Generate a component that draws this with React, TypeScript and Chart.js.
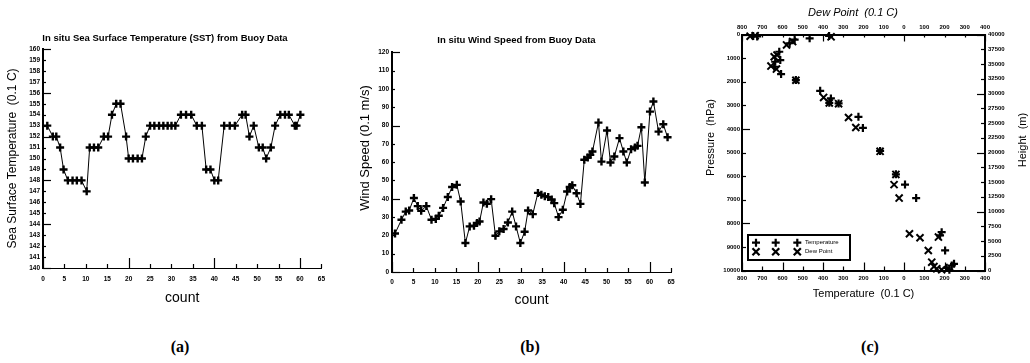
import React, { useEffect, useRef } from 'react';
import { Chart, registerables } from 'chart.js';

Chart.register(...registerables);

const SANS = '"Liberation Sans", Arial, sans-serif';
const SERIF = '"Liberation Serif", "Times New Roman", serif';

// ---------- Panel (a): in situ SST (0.1 C) vs count ----------
const sstCount = [1.0, 2.3, 3.1, 4.0, 4.8, 5.8, 6.9, 7.9, 9.0, 10.2, 10.9, 11.9, 12.9, 14.2, 15.2, 16.1, 17.1, 18.1, 19.4, 20.0,
  21.0, 22.1, 23.1, 24.0, 25.0, 26.0, 27.1, 28.1, 29.1, 30.0, 30.9, 32.2, 33.4, 34.6, 35.9, 37.1, 38.1, 39.1, 40.0, 40.9,
  42.3, 43.6, 44.8, 46.5, 47.3, 48.2, 49.2, 50.4, 51.3, 52.1, 53.2, 54.2, 55.4, 56.5, 57.4, 58.8, 59.2, 60.1];
const sstValue = [153, 152, 152, 151, 149, 148, 148, 148, 148, 147, 151, 151, 151, 152, 152, 154, 155, 155, 152, 150,
  150, 150, 150, 152, 153, 153, 153, 153, 153, 153, 153, 154, 154, 154, 153, 153, 149, 149, 148, 148,
  153, 153, 153, 154, 154, 152, 153, 151, 151, 150, 151, 153, 154, 154, 154, 153, 153, 154];

// ---------- Panel (b): in situ wind speed (0.1 m/s) vs count ----------
const windCount = [0.7, 2.2, 3.2, 4.0, 5.1, 6.0, 6.8, 8.0, 9.2, 10.2, 10.9, 11.9, 13.0, 14.0, 15.1, 16.0, 17.1, 18.1, 19.1, 19.8,
  20.4, 21.3, 22.1, 23.1, 24.1, 25.0, 26.0, 27.0, 28.0, 28.9, 29.9, 30.9, 31.7, 32.8, 34.0, 34.8, 35.6, 36.4, 37.2, 37.8,
  38.8, 39.8, 40.8, 41.4, 42.0, 43.0, 43.9, 44.8, 45.6, 46.2, 46.7, 48.1, 48.8, 50.1, 50.9, 51.8, 53.0, 53.9, 54.7, 55.7,
  56.6, 57.2, 58.1, 58.9, 60.1, 60.9, 62.1, 63.2, 64.2];
const windValue = [21, 28.5, 33, 33.6, 40.4, 36, 33.4, 36, 28.5, 29, 30.7, 35, 41, 46.4, 47.6, 38.5, 15.8, 24.9, 25.3, 26.7,
  27.6, 38, 37.3, 39.8, 19.8, 22.2, 23.5, 27, 33, 24.9, 15.8, 22, 33.6, 31.6, 43.2, 42.2, 41.4, 40.9, 39.6, 37.6,
  30, 34, 44, 46.4, 47.4, 43, 37.2, 61.3, 62.5, 64, 65.8, 81.6, 60.3, 77.3, 59.8, 63.1, 73.1, 65.8, 59.8, 67.1,
  68, 68.9, 79.1, 48.9, 87.6, 93.1, 76.7, 80.7, 73.6];

// ---------- Panel (c): sounding, temperature / dew point (0.1 C) vs pressure ----------
const tempValue = [-745, -725, -370, -466, -540, -565, -616, -611, -636, -640, -607, -534, -414, -361, -369, -323, -225, -203,
  -118, -40, 5, 60, 186, 178, 203, 247, 236, 211, 224];
const tempPressure = [60, 80, 60, 163, 220, 370, 730, 1083, 1155, 1367, 1677, 1932, 2386, 2710, 2896, 2922, 3490, 3958,
  4934, 5924, 6361, 6930, 8374, 8514, 9151, 9716, 9788, 9885, 9970];
const dewValue = [-760, -735, -360, -550, -580, -627, -641, -657, -630, -534, -397, -369, -323, -274, -238, -118, -40, -49,
  -24, 27, 170, 79, 120, 137, 148, 162, 186];
const dewPressure = [70, 50, 100, 300, 440, 870, 942, 1338, 1465, 1940, 2667, 2900, 2930, 3516, 3941, 4950, 5930, 6361,
  6930, 8443, 8585, 8613, 9151, 9648, 9830, 9928, 9970];

const panelLabels = ['(a)', '(b)', '(c)'];

// ---------- helpers ----------
type Side = 'left' | 'right' | 'top' | 'bottom';
interface TickSpec { id: string; side: Side; minor: number; major: number; every: number; width?: number; }

function tickPlugin(specs: TickSpec[]) {
  return {
    id: 'inwardTicks',
    afterDatasetsDraw(chart: any) {
      const { ctx, chartArea: a } = chart;
      ctx.save();
      ctx.strokeStyle = '#000';
      for (const s of specs) {
        const scale = chart.scales[s.id];
        if (!scale) continue;
        ctx.lineWidth = s.width ?? 1.2;
        for (const t of scale.ticks) {
          const r = t.value / s.every;
          const len = Math.abs(r - Math.round(r)) < 1e-6 ? s.major : s.minor;
          const p = Math.round(scale.getPixelForValue(t.value)) + 0.5;
          ctx.beginPath();
          if (s.side === 'left') { ctx.moveTo(a.left, p); ctx.lineTo(a.left + len, p); }
          else if (s.side === 'right') { ctx.moveTo(a.right, p); ctx.lineTo(a.right - len, p); }
          else if (s.side === 'top') { ctx.moveTo(p, a.top); ctx.lineTo(p, a.top + len); }
          else { ctx.moveTo(p, a.bottom); ctx.lineTo(p, a.bottom - len); }
          ctx.stroke();
        }
      }
      ctx.restore();
    },
  };
}

interface TextSpec { text: string; x: number; y: number; rotate?: number; font: string; }
function textPlugin(items: TextSpec[]) {
  return {
    id: 'freeText',
    afterDraw(chart: any) {
      const ctx = chart.ctx;
      ctx.save();
      ctx.fillStyle = '#000';
      ctx.textAlign = 'center';
      ctx.textBaseline = 'middle';
      for (const it of items) {
        ctx.save();
        ctx.translate(it.x, it.y);
        if (it.rotate) ctx.rotate(it.rotate);
        ctx.font = it.font;
        ctx.fillText(it.text, 0, 0);
        ctx.restore();
      }
      ctx.restore();
    },
  };
}

function drawMarker(ctx: CanvasRenderingContext2D, style: string, x: number, y: number, r: number, w: number) {
  ctx.lineWidth = w;
  ctx.beginPath();
  if (style === 'cross') {
    ctx.moveTo(x - r, y); ctx.lineTo(x + r, y);
    ctx.moveTo(x, y - r); ctx.lineTo(x, y + r);
  } else {
    const d = r * Math.SQRT1_2;
    ctx.moveTo(x - d, y - d); ctx.lineTo(x + d, y + d);
    ctx.moveTo(x - d, y + d); ctx.lineTo(x + d, y - d);
  }
  ctx.stroke();
}

const soundingLegend = {
  id: 'soundingLegend',
  afterDraw(chart: any) {
    const { ctx, chartArea: a } = chart;
    const x0 = a.left + 6;
    const y0 = a.bottom - 35.5;
    ctx.save();
    ctx.strokeStyle = '#000';
    ctx.fillStyle = '#fff';
    ctx.fillRect(x0, y0, 102, 25);
    ctx.fillStyle = '#000';
    ctx.lineWidth = 2;
    ctx.strokeRect(x0, y0, 102, 25);
    ctx.font = `6px ${SANS}`;
    ctx.textAlign = 'left';
    ctx.textBaseline = 'middle';
    chart.data.datasets.forEach((ds: any, i: number) => {
      const y = y0 + 7.7 + i * 9;
      for (const dx of [8, 27.7, 49.3]) drawMarker(ctx, ds.pointStyle, x0 + dx, y, ds.pointRadius, 2.2);
      ctx.fillText(ds.label, x0 + 57, y);
    });
    ctx.restore();
  },
};

const tickFont = { family: SANS, size: 6.5, weight: 'bold' as const };
const noGrid = { display: false, drawTicks: false };

function sstConfig(): any {
  return {
    type: 'scatter',
    data: {
      datasets: [{
        label: 'SST',
        data: sstCount.map((x, i) => ({ x, y: sstValue[i] })),
        showLine: true, borderColor: '#000', borderWidth: 1, tension: 0,
        pointStyle: 'cross', pointRadius: 4, pointBorderWidth: 2.4, pointBorderColor: '#000', clip: false,
      }],
    },
    options: {
      responsive: false, animation: false, devicePixelRatio: 1, events: [],
      layout: { padding: { left: 7, right: 9, top: 0, bottom: 0 } },
      plugins: {
        legend: { display: false }, tooltip: { enabled: false },
        title: {
          display: true, text: 'In situ Sea Surface Temperature (SST) from Buoy Data', color: '#000',
          font: { family: SANS, size: 9.5, weight: 'bold', lineHeight: 1 }, padding: { top: 33.25, bottom: 6.25 },
        },
      },
      scales: {
        x: {
          type: 'linear', min: 0, max: 65,
          afterFit: (s: any) => { s.height = 42; },
          grid: noGrid, border: { display: true, color: '#000', width: 1 },
          ticks: { stepSize: 5, autoSkip: false, maxRotation: 0, padding: 7, color: '#000', font: tickFont },
          title: { display: true, text: 'count', color: '#000', font: { family: SANS, size: 14, lineHeight: 1 }, padding: { top: 0, bottom: 5 } },
        },
        y: {
          type: 'linear', min: 140, max: 160,
          afterFit: (s: any) => { s.width = 36; },
          grid: noGrid, border: { display: true, color: '#000', width: 2 },
          ticks: { stepSize: 1, autoSkip: false, padding: 3, color: '#000', font: tickFont },
          title: { display: true, text: 'Sea Surface Temperature  (0.1 C)', color: '#000', font: { family: SANS, size: 12, lineHeight: 1 }, padding: { top: 0, bottom: 0 } },
        },
      },
    },
    plugins: [tickPlugin([
      { id: 'x', side: 'bottom', minor: 4, major: 10, every: 20 },
      { id: 'y', side: 'left', minor: 3, major: 8, every: 4 },
    ])],
  };
}

function windConfig(): any {
  return {
    type: 'scatter',
    data: {
      datasets: [{
        label: 'Wind Speed',
        data: windCount.map((x, i) => ({ x, y: windValue[i] })),
        showLine: true, borderColor: '#000', borderWidth: 1, tension: 0,
        pointStyle: 'cross', pointRadius: 4, pointBorderWidth: 2.4, pointBorderColor: '#000', clip: false,
      }],
    },
    options: {
      responsive: false, animation: false, devicePixelRatio: 1, events: [],
      layout: { padding: { left: 12, right: 11, top: 0, bottom: 0 } },
      plugins: {
        legend: { display: false }, tooltip: { enabled: false },
        title: {
          display: true, text: 'In situ Wind Speed from Buoy Data', color: '#000',
          font: { family: SANS, size: 9.5, weight: 'bold', lineHeight: 1 }, padding: { top: 36, bottom: 6.8 },
        },
      },
      scales: {
        x: {
          type: 'linear', min: 0, max: 65,
          afterFit: (s: any) => { s.height = 42; },
          grid: noGrid, border: { display: true, color: '#000', width: 1 },
          ticks: { stepSize: 5, autoSkip: false, maxRotation: 0, padding: 6, color: '#000', font: tickFont },
          title: { display: true, text: 'count', color: '#000', font: { family: SANS, size: 14, lineHeight: 1 }, padding: { top: 0, bottom: 7 } },
        },
        y: {
          type: 'linear', min: 0, max: 120,
          afterFit: (s: any) => { s.width = 30; },
          grid: noGrid, border: { display: true, color: '#000', width: 2 },
          ticks: { stepSize: 10, autoSkip: false, padding: 3, color: '#000', font: tickFont },
        },
      },
    },
    plugins: [
      tickPlugin([
        { id: 'x', side: 'bottom', minor: 4, major: 10, every: 20 },
        { id: 'y', side: 'left', minor: 3, major: 8, every: 40 },
      ]),
      textPlugin([{ text: 'Wind Speed (0.1 m/s)', x: 15, y: 148, rotate: -Math.PI / 2, font: `13px ${SANS}` }]),
    ],
  };
}

function soundingConfig(): any {
  const absLabel = (v: any) => String(Math.abs(Number(v)));
  const plainLabel = (v: any) => String(v);
  const cTickFont = { family: SANS, size: 6, weight: 'bold' as const };
  return {
    type: 'scatter',
    data: {
      datasets: [
        {
          label: 'Temperature',
          data: tempValue.map((x, i) => ({ x, y: tempPressure[i] })),
          xAxisID: 'x', yAxisID: 'y',
          pointStyle: 'cross', pointRadius: 4, pointBorderWidth: 2.2, pointBorderColor: '#000', borderColor: '#000', clip: false,
        },
        {
          label: 'Dew Point',
          data: dewValue.map((x, i) => ({ x, y: dewPressure[i] })),
          xAxisID: 'xTop', yAxisID: 'y',
          pointStyle: 'crossRot', pointRadius: 5, pointBorderWidth: 2, pointBorderColor: '#000', borderColor: '#000', clip: false,
        },
      ],
    },
    options: {
      responsive: false, animation: false, devicePixelRatio: 1, events: [],
      layout: { padding: 0 },
      plugins: { legend: { display: false }, tooltip: { enabled: false } },
      scales: {
        x: {
          type: 'linear', position: 'bottom', min: -800, max: 400,
          afterFit: (s: any) => { s.height = 39.5; },
          grid: noGrid, border: { display: true, color: '#000', width: 2 },
          ticks: { stepSize: 100, autoSkip: false, maxRotation: 0, padding: 4, color: '#000', font: cTickFont, callback: absLabel },
          title: { display: true, text: 'Temperature  (0.1 C)', color: '#000', font: { family: SANS, size: 11, lineHeight: 1 }, padding: { top: 0, bottom: 11 } },
        },
        xTop: {
          type: 'linear', axis: 'x', position: 'top', min: -800, max: 400,
          afterFit: (s: any) => { s.height = 34.5; },
          grid: noGrid, border: { display: true, color: '#000', width: 2 },
          ticks: { stepSize: 100, autoSkip: false, maxRotation: 0, padding: 4, color: '#000', font: cTickFont, callback: absLabel },
        },
        y: {
          type: 'linear', position: 'left', reverse: true, min: 0, max: 10000,
          afterFit: (s: any) => { s.width = 52; },
          grid: noGrid, border: { display: true, color: '#000', width: 2 },
          ticks: { stepSize: 1000, autoSkip: false, padding: 2, color: '#000', font: cTickFont, callback: plainLabel },
        },
        yRight: {
          type: 'linear', axis: 'y', position: 'right', min: 0, max: 40000,
          afterFit: (s: any) => { s.width = 45; },
          grid: noGrid, border: { display: true, color: '#000', width: 2 },
          ticks: { stepSize: 2500, autoSkip: false, padding: 3, color: '#000', font: cTickFont, callback: plainLabel },
        },
      },
    },
    plugins: [
      tickPlugin([
        { id: 'x', side: 'bottom', minor: 4, major: 8, every: 200 },
        { id: 'xTop', side: 'top', minor: 3, major: 7, every: 400 },
        { id: 'y', side: 'left', minor: 4, major: 8, every: 4000 },
        { id: 'yRight', side: 'right', minor: 4, major: 8, every: 10000 },
      ]),
      soundingLegend,
      textPlugin([
        { text: 'Dew Point  (0.1 C)', x: 163, y: 13, font: `italic 11px ${SANS}` },
        { text: 'Pressure  (hPa)', x: 21, y: 137.5, rotate: -Math.PI / 2, font: `11px ${SANS}` },
        { text: 'Height  (m)', x: 333, y: 140, rotate: -Math.PI / 2, font: `11px ${SANS}` },
      ]),
    ],
  };
}

function ChartCanvas(props: { build: () => any; left: number; top: number; width: number; height: number }) {
  const ref = useRef<HTMLCanvasElement | null>(null);
  useEffect(() => {
    if (!ref.current) return;
    const chart = new Chart(ref.current, props.build());
    return () => chart.destroy();
  }, []);
  return (
    <canvas
      ref={ref}
      width={props.width}
      height={props.height}
      style={{ position: 'absolute', left: props.left, top: props.top, width: props.width, height: props.height }}
    />
  );
}

const labelCenters = [180, 530, 870];

export default function App() {
  return (
    <div style={{ position: 'fixed', left: 0, top: 0, width: 1030, height: 363, background: '#fff', overflow: 'hidden' }}>
      <ChartCanvas build={sstConfig} left={0} top={0} width={332} height={310} />
      <ChartCanvas build={windConfig} left={350} top={0} width={332} height={314} />
      <ChartCanvas build={soundingConfig} left={690} top={0} width={340} height={310} />
      {panelLabels.map((t, i) => (
        <div
          key={t}
          style={{
            position: 'absolute', left: labelCenters[i] - 30, top: 338, width: 60, height: 18, lineHeight: '18px',
            textAlign: 'center', fontFamily: SERIF, fontWeight: 'bold', fontSize: 16, color: '#000',
          }}
        >
          {t}
        </div>
      ))}
    </div>
  );
}
